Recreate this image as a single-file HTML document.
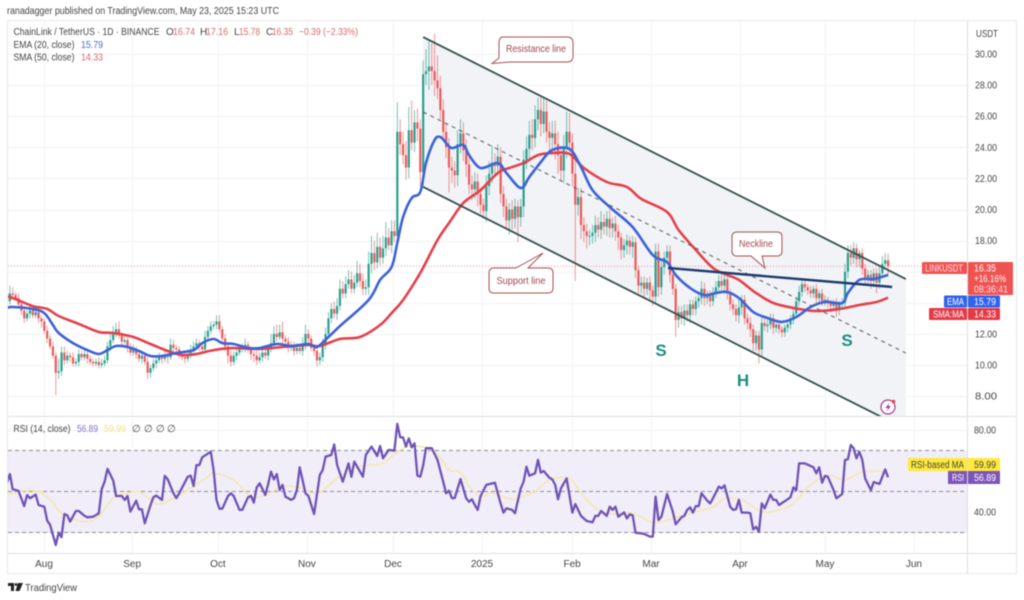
<!DOCTYPE html>
<html lang="en">
<head>
<meta charset="utf-8">
<title>ChainLink / TetherUS chart</title>
<style>
html,body{margin:0;padding:0;background:#fff;width:1024px;height:600px;overflow:hidden}
svg{display:block;filter:blur(.45px);font-family:"Liberation Sans",sans-serif}
text{font-size:10px;fill:#444}
</style>
</head>
<body>
<svg id="chart" xmlns="http://www.w3.org/2000/svg" width="1024" height="600" viewBox="0 0 1024 600">
  <defs>
    <clipPath id="main-clip"><rect x="8" y="21" width="959" height="395"/></clipPath>
    <clipPath id="rsi-clip"><rect x="8" y="417" width="959" height="136"/></clipPath>
  </defs>
  <rect width="1024" height="600" fill="#fff"/>
  <text x="7" y="14" textLength="272" lengthAdjust="spacingAndGlyphs" style="font-size:10px" fill="#444">ranadagger published on TradingView.com, May 23, 2025 15:23 UTC</text>
  <g id="grid-layer"></g>
  <rect x="8" y="451" width="959" height="82" fill="#f1edf9"/>
  <g id="rsi-guides"></g>
  <rect x="7.5" y="20.5" width="1009" height="553" fill="none" stroke="#e8e8ea"/>
  <line x1="8" x2="1017" y1="416.5" y2="416.5" stroke="#e0e1e4"/>
  <line x1="8" x2="1017" y1="553.5" y2="553.5" stroke="#e0e1e4"/>
  <line x1="967.5" x2="967.5" y1="21" y2="574" stroke="#dcdde0"/>
  <g clip-path="url(#main-clip)">
    <polygon id="channel-fill" fill="#f1f3f6"/>
    <line id="last-price-line" x1="8" x2="967" stroke="#e59090" stroke-width="1" stroke-dasharray="1 2"/>
    <g id="candles"></g>
    <path id="sma-line" fill="none" stroke="#e5404a" stroke-width="2.6" stroke-linejoin="round"/>
    <path id="ema-line" fill="none" stroke="#3d62d9" stroke-width="2.6" stroke-linejoin="round"/>
    <line id="channel-mid" stroke="#555b5e" stroke-width="1" stroke-dasharray="4 4"/>
    <line id="channel-upper" stroke="#33504c" stroke-width="1.8"/>
    <line id="channel-lower" stroke="#33504c" stroke-width="1.8"/>
    <line id="neckline" stroke="#1d3b70" stroke-width="2.4"/>
  </g>
  <g clip-path="url(#rsi-clip)">
    <path id="rsi-ma-line" fill="none" stroke="#f4e8a6" stroke-width="1.4"/>
    <polyline id="rsi-line" fill="none" stroke="#6f54b5" stroke-width="2.3" stroke-linejoin="round"/>
  </g>

  <g>
    <path d="M503 37H567Q573 37 573 43V56Q573 62 567 62H510L492 63.5L499 58V43Q499 37 503 37Z" fill="#fff" stroke="#a85055" stroke-width="1"/>
    <text x="536" y="52" text-anchor="middle" textLength="60" lengthAdjust="spacingAndGlyphs" style="fill:#a2474d">Resistance line</text>
  </g>
  <g>
    <path d="M494 268H516L543 253L528 268H548Q553 268 553 273V288Q553 293 548 293H494Q489 293 489 288V273Q489 268 494 268Z" fill="#fff" stroke="#a85055" stroke-width="1"/>
    <text x="521" y="284" text-anchor="middle" textLength="49" lengthAdjust="spacingAndGlyphs" style="fill:#a2474d">Support line</text>
  </g>
  <g>
    <path d="M737 232H777Q782 232 782 237V251Q782 256 777 256H762L765 268L751 256H737Q732 256 732 251V237Q732 232 737 232Z" fill="#fff" stroke="#a85055" stroke-width="1"/>
    <text x="756" y="247" text-anchor="middle" textLength="34" lengthAdjust="spacingAndGlyphs" style="fill:#a2474d">Neckline</text>
  </g>
  <text x="661" y="356" text-anchor="middle" style="font-size:17px;fill:#1f8f7f;font-weight:bold">S</text>
  <text x="743" y="386" text-anchor="middle" style="font-size:17px;fill:#1f8f7f;font-weight:bold">H</text>
  <text x="847" y="346" text-anchor="middle" style="font-size:17px;fill:#1f8f7f;font-weight:bold">S</text>

  <g>
    <text x="13.5" y="35" textLength="146" lengthAdjust="spacingAndGlyphs">ChainLink / TetherUS · 1D · BINANCE</text>
    <text x="166" y="35">O</text><text x="173" y="35" textLength="22" lengthAdjust="spacingAndGlyphs" style="fill:#d9696b">16.74</text>
    <text x="200" y="35">H</text><text x="206" y="35" textLength="22" lengthAdjust="spacingAndGlyphs" style="fill:#d9696b">17.16</text>
    <text x="234" y="35">L</text><text x="239" y="35" textLength="21" lengthAdjust="spacingAndGlyphs" style="fill:#d9696b">15.78</text>
    <text x="266" y="35">C</text><text x="272" y="35" textLength="21" lengthAdjust="spacingAndGlyphs" style="fill:#d9696b">16.35</text>
    <text x="299" y="35" textLength="59" lengthAdjust="spacingAndGlyphs" style="fill:#d9696b">−0.39 (−2.33%)</text>
    <text x="13.5" y="48" textLength="61" lengthAdjust="spacingAndGlyphs">EMA (20, close)</text><text x="81" y="48" textLength="22" lengthAdjust="spacingAndGlyphs" style="fill:#4a6fd0">15.79</text>
    <text x="13.5" y="60.5" textLength="61" lengthAdjust="spacingAndGlyphs">SMA (50, close)</text><text x="81" y="60.5" textLength="22" lengthAdjust="spacingAndGlyphs" style="fill:#d9696b">14.33</text>
  </g>
  <g>
    <text x="13.5" y="432" textLength="57" lengthAdjust="spacingAndGlyphs">RSI (14, close)</text>
    <text x="77" y="432" textLength="21" lengthAdjust="spacingAndGlyphs" style="fill:#8672c4">56.89</text>
    <text x="104" y="432" textLength="22" lengthAdjust="spacingAndGlyphs" style="fill:#f0e68a">59.99</text>
    <text x="132" y="432">∅</text><text x="144" y="432">∅</text><text x="156" y="432">∅</text><text x="167" y="432">∅</text>
  </g>

  <text x="976" y="37" textLength="22" lengthAdjust="spacingAndGlyphs">USDT</text>
  <g id="price-ticks"></g>
  <g id="rsi-ticks"></g>
  <g id="time-ticks"></g>

  <g>
    <rect x="922" y="262" width="45" height="12" rx="1" fill="#ef5350"/>
    <text x="925" y="271.5" textLength="38" lengthAdjust="spacingAndGlyphs" style="fill:#fde">LINKUSDT</text>
    <rect x="968" y="262" width="45" height="33" rx="1" fill="#ef5350"/>
    <text x="974" y="271.5" textLength="22" lengthAdjust="spacingAndGlyphs" style="fill:#fff">16.35</text>
    <text x="974" y="282" textLength="32" lengthAdjust="spacingAndGlyphs" style="fill:#fff">+16.16%</text>
    <text x="974" y="292.5" textLength="34" lengthAdjust="spacingAndGlyphs" style="fill:#fde">08:36:41</text>
  </g>
  <g>
    <rect x="944" y="295.5" width="23" height="12" rx="1" fill="#2f62ee"/>
    <text x="947" y="305" textLength="17" lengthAdjust="spacingAndGlyphs" style="fill:#fff">EMA</text>
    <rect x="968" y="295.5" width="32" height="12" rx="1" fill="#2f62ee"/>
    <text x="974" y="305" textLength="22" lengthAdjust="spacingAndGlyphs" style="fill:#fff">15.79</text>
  </g>
  <g>
    <rect x="929" y="308" width="38" height="12" rx="1" fill="#e53945"/>
    <text x="933" y="317.5" textLength="31" lengthAdjust="spacingAndGlyphs" style="fill:#fff">SMA:MA</text>
    <rect x="968" y="308" width="32" height="12" rx="1" fill="#e53945"/>
    <text x="974" y="317.5" textLength="22" lengthAdjust="spacingAndGlyphs" style="fill:#fff">14.33</text>
  </g>
  <g>
    <rect x="908" y="458" width="59" height="13" fill="#ffe93b"/>
    <text x="911" y="468" textLength="53" lengthAdjust="spacingAndGlyphs" style="fill:#444">RSI-based MA</text>
    <rect x="968" y="458" width="32" height="13" fill="#ffe93b"/>
    <text x="974" y="468" textLength="22" lengthAdjust="spacingAndGlyphs" style="fill:#444">59.99</text>
  </g>
  <g>
    <rect x="948" y="471" width="19" height="13" fill="#7c55b8"/>
    <text x="952" y="481" textLength="12" lengthAdjust="spacingAndGlyphs" style="fill:#fff">RSI</text>
    <rect x="968" y="471" width="32" height="13" fill="#7c55b8"/>
    <text x="974" y="481" textLength="22" lengthAdjust="spacingAndGlyphs" style="fill:#fff">56.89</text>
  </g>

  <g>
    <circle cx="888" cy="407" r="7" fill="#fff" stroke="#a43b97" stroke-width="1.2"/>
    <path d="M889.5 402.5L885.5 408H888L886.8 411.5L890.8 406H888.3Z" fill="#a43b97"/>
    <circle cx="893.5" cy="401.5" r="1.8" fill="#ec4444"/>
  </g>
  <g>
    <path d="M8 583H14V591H11V586H8ZM18 583H23L19.5 591H15.5Z" fill="#222"/>
    <circle cx="16" cy="584.5" r="1.4" fill="#222"/>
    <text x="25" y="591" textLength="52" lengthAdjust="spacingAndGlyphs" style="font-size:10.5px;fill:#444">TradingView</text>
  </g>
</svg>
<script>
// Daily closes, Jul 2024 – May 23 2025 (each open is the previous close)
const closes = [
14.1,14.6,14.5,14.3,13.9,13.5,13.0,13.3,13.5,13.2,
13.4,13.0,12.8,12.2,11.7,11.2,10.6,9.5,9.6,10.8,
10.3,10.6,10.5,10.1,10.2,10.7,10.5,10.7,10.4,10.2,
10.1,10.2,10.0,10.1,10.3,11.2,11.6,12.1,12.3,11.9,
11.5,11.6,11.1,10.8,11.0,10.7,10.4,10.6,10.2,9.5,
9.8,10.1,10.3,10.5,10.4,10.6,10.5,11.3,11.1,11.0,
10.7,10.5,10.4,10.7,11.0,11.2,11.4,11.2,11.0,11.8,
12.2,12.5,12.6,12.8,12.3,11.7,11.2,10.6,10.2,10.6,
10.8,11.0,11.1,11.3,11.0,10.7,10.6,10.3,10.5,10.8,
10.6,11.0,11.4,12.0,11.8,12.1,11.7,11.5,11.1,11.3,
10.9,11.1,10.9,11.2,12.0,11.7,11.1,10.9,10.3,10.5,
11.3,12.0,13.0,13.6,13.3,13.8,14.9,14.6,15.2,15.5,
14.9,15.3,15.9,15.4,14.9,15.0,16.5,17.2,16.6,17.6,
16.9,17.5,18.2,17.7,18.6,18.3,25.0,24.2,23.5,22.7,
25.1,24.3,25.6,25.2,22.4,28.7,28.9,29.2,28.9,28.3,
27.8,26.4,25.0,24.0,22.7,22.5,22.2,24.2,24.9,23.8,
22.9,21.6,21.3,21.8,21.0,20.3,19.9,21.5,22.3,23.0,
22.8,23.4,21.0,20.2,19.3,20.0,19.4,20.2,19.5,20.2,
23.2,23.9,24.8,24.6,25.8,26.4,25.5,26.3,25.0,24.6,
24.9,24.2,23.5,22.5,24.0,25.0,24.3,22.3,20.3,20.8,
19.0,18.6,18.3,18.3,18.5,19.0,18.7,19.2,18.9,19.4,
18.8,19.1,18.6,18.2,17.4,17.7,18.0,17.6,17.9,16.1,
15.1,15.3,14.9,15.3,14.8,14.4,17.3,15.0,16.3,16.9,
17.3,15.8,14.9,12.9,13.4,13.0,13.5,13.2,13.9,13.6,
14.1,14.3,14.9,14.3,14.5,14.1,14.6,15.0,15.4,15.1,
15.5,14.6,13.9,13.6,13.2,13.7,14.2,13.0,12.7,12.3,
11.4,11.9,11.0,12.7,12.5,12.6,13.0,12.4,12.6,12.3,
12.1,12.4,12.6,12.9,13.3,14.1,14.7,15.2,15.0,14.8,
14.6,14.9,14.3,14.6,14.1,14.2,14.0,13.8,14.0,13.6,
13.9,14.0,16.0,17.2,16.9,17.5,16.8,17.2,16.2,15.6,
15.8,15.4,15.9,15.3,15.9,16.5,16.74,16.35];
const firstOpen = 14.3;
const upperWicks = [
.3,.5,.4,.2,.3,.2,.3,.2,.3,.2,
.2,.3,.2,.2,.3,.2,.3,.2,.8,.4,
.4,.3,.2,.3,.2,.3,.2,.3,.2,.2,
.2,.2,.3,.3,.3,.3,.5,.4,.4,.5,
.2,.3,.2,.3,.3,.2,.3,.2,.2,.3,
.2,.3,.2,.3,.2,.3,.2,.4,.3,.2,
.2,.2,.3,.3,.3,.3,.3,.2,.3,.4,
.3,.3,.2,.4,.4,.2,.3,.2,.3,.3,
.2,.3,.3,.4,.2,.2,.2,.3,.3,.2,
.3,.3,.6,.5,.6,.5,.7,.2,.3,.2,
.2,.3,.2,.6,.6,.3,.2,.2,.2,.3,
.4,.4,.4,.4,.5,.5,.6,.5,.5,.6,
.5,.5,.8,.6,.5,.5,.8,1.1,.8,.9,
.6,.8,1.0,.6,.7,.7,1.9,.8,.8,.9,
1.5,1.9,.8,.9,.6,.9,1.4,1.7,1.5,2.4,
1.6,.8,.7,.5,.6,.7,.6,.9,.9,.7,
.7,.5,.6,.6,.5,.4,.4,.7,.8,1.1,
.6,.8,.6,.5,.5,.4,.6,.5,.4,.5,
.6,.8,.9,1.0,.9,.8,.8,.9,.7,.6,
.8,.8,.8,.6,.8,1.3,1.2,.6,.8,.6,
.6,.5,.5,.4,.5,.6,.5,.7,.5,.5,
.6,.4,.5,.4,.3,.4,.4,.3,.4,.3,
.3,.4,.4,.3,.4,.3,.5,.5,.5,.4,
.4,.4,.3,.3,.4,.4,.4,.4,.3,.3,
.3,.3,.5,.4,.3,.3,.4,.4,.4,.5,
.3,.3,.3,.3,.3,.5,.3,.3,.3,.4,
.3,.3,.3,.4,.3,.3,.3,.3,.2,.2,
.2,.2,.2,.3,.3,.3,.4,.3,.3,.2,
.3,.2,.3,.2,.3,.3,.2,.2,.2,.3,
.2,.3,.5,.5,.5,.4,.3,.2,.3,.3,
.3,.3,.3,.3,.4,.5,.45,.42];
const lowerWicks = [
.3,.2,.3,.2,.2,.3,.3,.2,.3,.2,
.2,.3,.4,.2,.3,.2,.2,1.45,.4,.3,
.3,.2,.3,.2,.2,.3,.2,.2,.3,.2,
.2,.2,.2,.2,.2,.2,.3,.2,.3,.2,
.3,.2,.3,.2,.2,.3,.2,.3,.2,.4,
.3,.2,.3,.2,.3,.2,.4,.2,.3,.2,
.3,.2,.3,.2,.3,.2,.2,.3,.2,.2,
.3,.2,.2,.3,.2,.3,.3,.5,.3,.2,
.3,.2,.2,.3,.2,.4,.4,.3,.2,.3,
.2,.3,.2,.2,.3,.2,.3,.2,.3,.2,
.3,.2,.2,.3,.2,.3,.2,.3,.4,.3,
.3,.3,.3,.3,.3,.4,.3,.3,.3,.3,
.3,.3,.3,.4,.4,.4,.5,.6,.5,.4,
.5,.4,.5,.3,.5,.4,.3,.7,.6,.8,
.7,.5,.6,.8,.9,.9,.7,1.2,.9,1.0,
.7,.6,.5,.7,1.6,.8,.8,.7,.6,.7,
.8,.6,.7,.6,.8,.6,.5,.7,.6,.6,
.7,.6,.6,.7,.6,.9,.7,.6,1.6,.6,
.7,.6,.7,.8,.6,.7,.8,.6,.7,.9,
.8,1.0,1.2,.7,.8,.7,.8,.8,4.9,.7,
.9,.7,.8,.6,.5,.6,.5,.6,.5,.6,
.6,.6,.6,.8,.6,.5,.6,.5,.7,.5,
.5,.5,.6,.4,.6,.6,.4,.6,.5,.5,
.4,.5,.4,1.1,.5,.4,.5,.4,.5,.4,
.4,.4,.4,.5,.4,.4,.3,.3,.4,.4,
.5,.4,.4,.4,.4,.5,.5,.4,.4,.5,
.5,.5,.9,.4,.3,.4,.3,.4,.3,.3,
.3,.3,.3,.3,.3,.3,.3,.3,.3,.3,
.3,.3,.3,.3,.3,.3,.3,.4,.3,.5,
.4,.2,.3,.4,.5,.4,.5,.5,.4,.5,
.4,.5,.4,.7,.4,.3,.3,.57];
// [day index, value]
const emaPoints = [[0,13.67],[2,13.73],[9,13.6],[13,13.34],[16,12.57],[18,12.06],[23,11.41],[28,10.96],[32,10.71],[35,10.96],[38,11.22],[42,11.16],[46,10.9],[50,10.58],[54,10.58],[59,10.77],[65,10.96],[68,11.41],[72,11.67],[75,11.41],[79,11.35],[84,11.09],[88,11.09],[94,11.35],[99,11.22],[105,11.35],[108,11.16],[112,11.8],[116,12.5],[126,14.18],[130,15.47],[134,16.3],[136,17.85],[138,19.52],[141,20.74],[144,21.13],[146,22.99],[149,24.47],[151,24.66],[153,24.28],[155,23.95],[159,24.15],[161,23.5],[165,22.67],[171,22.99],[174,22.35],[179,21.38],[182,22.09],[186,23.05],[190,23.83],[196,23.89],[200,22.73],[204,21.25],[210,20.16],[218,18.87],[225,17.07],[230,16.62],[233,15.79],[238,14.95],[243,14.5],[247,14.63],[251,14.69],[255,14.31],[260,13.41],[265,13.02],[270,12.77],[275,13.09],[280,13.73],[285,14.05],[291,13.99],[293,14.63],[297,15.47],[302,15.53],[307,15.79]];
const smaPoints = [[0,14.44],[3,14.24],[9,13.79],[14,13.6],[18,13.15],[25,12.64],[32,12.12],[37,12.06],[44,11.8],[50,11.35],[56,10.9],[61,10.64],[66,10.71],[72,10.96],[79,11.09],[88,11.03],[96,11.16],[105,11.29],[109,11.22],[116,11.67],[123,11.8],[130,12.57],[134,13.34],[138,14.18],[144,15.92],[150,18.04],[154,19.13],[159,20.42],[165,21.25],[171,22.35],[175,22.67],[180,22.99],[185,23.5],[190,23.63],[196,23.57],[201,22.67],[209,21.77],[216,21.45],[221,20.68],[230,19.84],[234,18.68],[240,17.4],[246,16.24],[251,15.79],[255,15.47],[261,14.63],[267,13.99],[274,13.67],[282,13.47],[290,13.6],[297,13.86],[303,14.05],[307,14.33]];
const rsiPoints = [[0,54.3],[1,58.5],[2,51.1],[4,50.3],[6,42.9],[7,48.3],[8,46.7],[10,48.5],[11,43.4],[13,42.6],[14,35.8],[15,33.7],[17,23.9],[18,29.9],[19,27.7],[20,39.0],[21,38.4],[22,35.3],[24,40.5],[25,40.5],[27,38.1],[28,37.4],[30,37.7],[32,39.3],[33,51.1],[34,54.8],[35,61.0],[37,55.3],[38,47.8],[40,47.8],[41,45.9],[42,47.8],[43,40.2],[45,45.5],[46,41.3],[47,41.3],[48,34.5],[50,43.4],[51,47.2],[52,48.0],[54,45.9],[55,57.6],[56,56.0],[58,49.1],[59,46.8],[60,49.1],[63,57.2],[64,57.7],[65,52.7],[66,62.9],[67,62.9],[68,66.7],[71,69.4],[72,60.5],[73,45.9],[74,41.6],[75,41.6],[77,47.8],[78,49.1],[79,47.8],[81,41.0],[82,41.0],[84,47.2],[85,47.8],[86,44.6],[87,52.0],[88,54.0],[90,48.3],[91,53.7],[92,59.7],[93,55.9],[94,58.5],[95,50.7],[96,53.2],[97,47.5],[99,45.9],[100,46.7],[101,50.7],[102,61.8],[104,49.1],[105,47.8],[107,39.0],[109,58.0],[110,60.5],[111,67.0],[113,67.8],[114,73.0],[115,63.0],[117,54.8],[119,63.7],[120,57.2],[121,64.6],[124,57.2],[125,67.8],[127,71.9],[129,67.3],[130,72.2],[131,66.2],[133,70.3],[135,69.9],[136,83.0],[137,76.4],[138,76.4],[139,71.9],[140,75.9],[141,71.5],[142,73.5],[143,57.7],[144,57.2],[145,62.9],[146,71.1],[148,71.1],[150,65.4],[152,54.8],[153,49.1],[154,50.4],[155,46.8],[156,46.8],[158,56.1],[160,46.7],[161,45.0],[162,46.2],[163,43.4],[164,41.0],[165,47.8],[167,53.2],[170,54.3],[172,44.2],[173,39.7],[174,41.8],[176,41.0],[177,39.4],[179,51.5],[180,54.8],[181,62.1],[182,57.7],[184,58.9],[185,65.4],[186,59.2],[187,60.0],[189,56.7],[190,55.9],[191,53.2],[192,46.2],[193,51.5],[195,56.4],[197,39.7],[198,43.9],[200,38.1],[202,35.6],[204,35.0],[205,38.1],[206,38.1],[207,40.5],[209,38.1],[210,42.6],[211,41.0],[212,42.6],[213,37.7],[215,39.8],[216,36.9],[217,38.9],[218,38.4],[219,29.9],[222,29.3],[224,28.0],[225,28.0],[226,47.5],[227,36.1],[228,37.7],[230,48.8],[232,40.2],[233,34.0],[235,37.4],[236,38.1],[237,41.0],[238,42.3],[239,39.7],[240,42.9],[241,42.9],[242,49.1],[244,45.5],[245,44.2],[246,46.7],[248,52.4],[249,51.5],[250,53.0],[252,42.6],[253,41.0],[254,41.3],[255,45.9],[256,39.7],[258,39.7],[259,39.4],[260,31.5],[261,32.8],[262,30.4],[263,44.2],[264,41.8],[266,48.5],[267,45.9],[268,45.9],[269,43.4],[272,46.2],[273,47.2],[274,52.0],[275,50.7],[276,63.7],[278,63.7],[281,61.8],[282,58.9],[283,61.8],[284,54.3],[285,57.6],[286,57.2],[288,50.7],[289,46.7],[291,48.8],[292,65.4],[293,65.7],[294,72.7],[295,71.1],[296,66.2],[297,69.4],[298,65.4],[299,56.4],[301,50.7],[302,54.6],[304,53.7],[306,60.8],[307,56.89]];
const rsiMaPoints = [[0,48.3],[6,50.4],[11,49.9],[15,45.9],[19,39.4],[24,36.1],[28,35.3],[32,37.7],[37,46.7],[42,49.1],[46,49.9],[50,45.9],[53,43.8],[58,46.7],[64,51.5],[70,57.2],[72,58.9],[79,55.6],[85,47.5],[90,48.3],[96,52.4],[102,52.0],[108,49.1],[115,56.4],[121,61.3],[126,62.9],[131,63.7],[137,70.3],[142,72.2],[149,69.4],[154,60.5],[158,59.4],[162,50.7],[166,47.8],[169,49.4],[176,46.2],[181,48.3],[184,49.9],[189,55.6],[196,56.4],[200,49.1],[206,41.0],[212,39.0],[218,39.4],[224,35.3],[228,35.3],[234,37.7],[240,40.2],[246,42.3],[250,46.7],[256,45.9],[263,40.2],[269,41.0],[274,44.2],[280,53.2],[286,58.0],[292,55.6],[298,59.4],[306,59.99]];
const priceTicks = [30,28,26,24,22,20,18,12,10,8];
const priceGrid = [30,28,26,24,22,20,18,16,14,12,10,8];
const rsiTicks = [80,40];
const rsiGrid = [80,60,40];
const rsiGuides = [70,50,30];
const monthLabels = ['Aug','Sep','Oct','Nov','Dec','2025','Feb','Mar','Apr','May','Jun'];
const monthDays = [12.9,43.6,73.5,104.5,134.5,165.5,196.9,224.4,255.4,285,316];
const lastPrice = 16.35;
// trendline anchors: [day index, price]
const channelUpper = [[145,31.09],[313.2,15.53]];
const channelMiddle = [[145,26.27],[313.2,10.77]];
const channelLower = [[145,21.45],[313.2,5.87]];
const necklineAnchors = [[230.3,16.24],[308.4,15.02]];

const SVGNS = 'http://www.w3.org/2000/svg';
const xScale = d => 7 + 2.87 * d;
const yScale = p => 54 + (30 - p) * 15.55;
const rsiScale = v => 430 + (80 - v) * 2.05;
const byId = id => document.getElementById(id);
const linePoints = (pts, sy) => pts.map(p => xScale(p[0]).toFixed(1) + ',' + sy(p[1]).toFixed(1)).join(' ');
function smoothPath(pts, sy) {
  const q = pts.map(p => [xScale(p[0]), sy(p[1])]);
  let d = 'M' + q[0][0].toFixed(1) + ' ' + q[0][1].toFixed(1);
  for (let i = 0; i < q.length - 1; i++) {
    const a = q[Math.max(0, i - 1)], b = q[i], c = q[i + 1], e = q[Math.min(q.length - 1, i + 2)];
    d += 'C' + (b[0] + (c[0] - a[0]) / 6).toFixed(1) + ' ' + (b[1] + (c[1] - a[1]) / 6).toFixed(1) + ' ' +
         (c[0] - (e[0] - b[0]) / 6).toFixed(1) + ' ' + (c[1] - (e[1] - b[1]) / 6).toFixed(1) + ' ' +
         c[0].toFixed(1) + ' ' + c[1].toFixed(1);
  }
  return d;
}
function make(tag, parent) { const el = document.createElementNS(SVGNS, tag); parent.appendChild(el); return el; }
function setLine(el, a) {
  el.setAttribute('x1', xScale(a[0][0])); el.setAttribute('y1', yScale(a[0][1]));
  el.setAttribute('x2', xScale(a[1][0])); el.setAttribute('y2', yScale(a[1][1]));
}

// grid
const gridLayer = byId('grid-layer');
function gridLine(x1, y1, x2, y2) {
  const el = make('line', gridLayer);
  el.setAttribute('x1', x1); el.setAttribute('y1', y1); el.setAttribute('x2', x2); el.setAttribute('y2', y2);
  el.setAttribute('stroke', '#f2f3f5');
  return el;
}
monthDays.forEach(d => {
  const x = Math.round(xScale(d)) + .5;
  const el = gridLine(x, 21, x, 553);
  
  
});
priceGrid.forEach(p => {
  const y = Math.round(yScale(p)) + .5;
  const el = gridLine(8, y, 967, y);
  
  
});
rsiGrid.forEach(v => {
  const y = Math.round(rsiScale(v)) + .5;
  const el = gridLine(8, y, 967, y);
  
  
});
rsiGuides.forEach(v => {
  const el = make('line', byId('rsi-guides'));
  
  
  el.setAttribute('x1', 8); el.setAttribute('x2', 967);
  el.setAttribute('y1', rsiScale(v)); el.setAttribute('y2', rsiScale(v));
  el.setAttribute('stroke', '#8d8d95'); el.setAttribute('stroke-dasharray', '4 3');
});

// channel
byId('channel-fill').setAttribute('points', [channelUpper[0], channelUpper[1], channelLower[1], channelLower[0]].map(p => xScale(p[0]) + ',' + yScale(p[1])).join(' '));
setLine(byId('channel-upper'), channelUpper);
setLine(byId('channel-mid'), channelMiddle);
setLine(byId('channel-lower'), channelLower);
setLine(byId('neckline'), necklineAnchors);
byId('last-price-line').setAttribute('y1', yScale(lastPrice));
byId('last-price-line').setAttribute('y2', yScale(lastPrice));

// candles
const candleGroup = byId('candles');
closes.forEach((c, i) => {
  const o = i === 0 ? firstOpen : closes[i - 1];
  const up = c >= o;
  const color = up ? '#2b9f8e' : '#ea5a5c';
  const high = Math.max(o, c) + upperWicks[i];
  const low = Math.min(o, c) - lowerWicks[i];
  const x = xScale(i);
  const wick = make('line', candleGroup);
  
  
  wick.setAttribute('x1', x); wick.setAttribute('x2', x);
  wick.setAttribute('y1', yScale(high)); wick.setAttribute('y2', yScale(low));
  wick.setAttribute('stroke', color); wick.setAttribute('stroke-width', '.9'); wick.setAttribute('opacity', '.7');
  const body = make('rect', candleGroup);
  
  
  const top = yScale(Math.max(o, c));
  body.setAttribute('x', x - 1.1); body.setAttribute('width', 2.2);
  body.setAttribute('y', top); body.setAttribute('height', Math.max(1, yScale(Math.min(o, c)) - top));
  body.setAttribute('fill', color);
});

// indicator lines
byId('ema-line').setAttribute('d', smoothPath(emaPoints, yScale));
byId('sma-line').setAttribute('d', smoothPath(smaPoints, yScale));
byId('rsi-line').setAttribute('points', linePoints(rsiPoints, rsiScale));
byId('rsi-ma-line').setAttribute('d', smoothPath(rsiMaPoints, rsiScale));

// axis labels
priceTicks.forEach(p => {
  const t = make('text', byId('price-ticks'));
  
  
  t.setAttribute('x', 975); t.setAttribute('y', yScale(p) + 3.5);
  t.setAttribute('textLength', 22);
  t.setAttribute('lengthAdjust', 'spacingAndGlyphs');
  t.textContent = p.toFixed(2);
});
rsiTicks.forEach(v => {
  const t = make('text', byId('rsi-ticks'));
  
  
  t.setAttribute('x', 974); t.setAttribute('y', rsiScale(v) + 3.5);
  t.setAttribute('textLength', 22);
  t.setAttribute('lengthAdjust', 'spacingAndGlyphs');
  t.textContent = v.toFixed(2);
});
monthLabels.forEach((m, i) => {
  const t = make('text', byId('time-ticks'));
  
  
  t.setAttribute('x', xScale(monthDays[i])); t.setAttribute('y', 567);
  t.setAttribute('text-anchor', 'middle');
  t.textContent = m;
});
</script>
</body>
</html>
